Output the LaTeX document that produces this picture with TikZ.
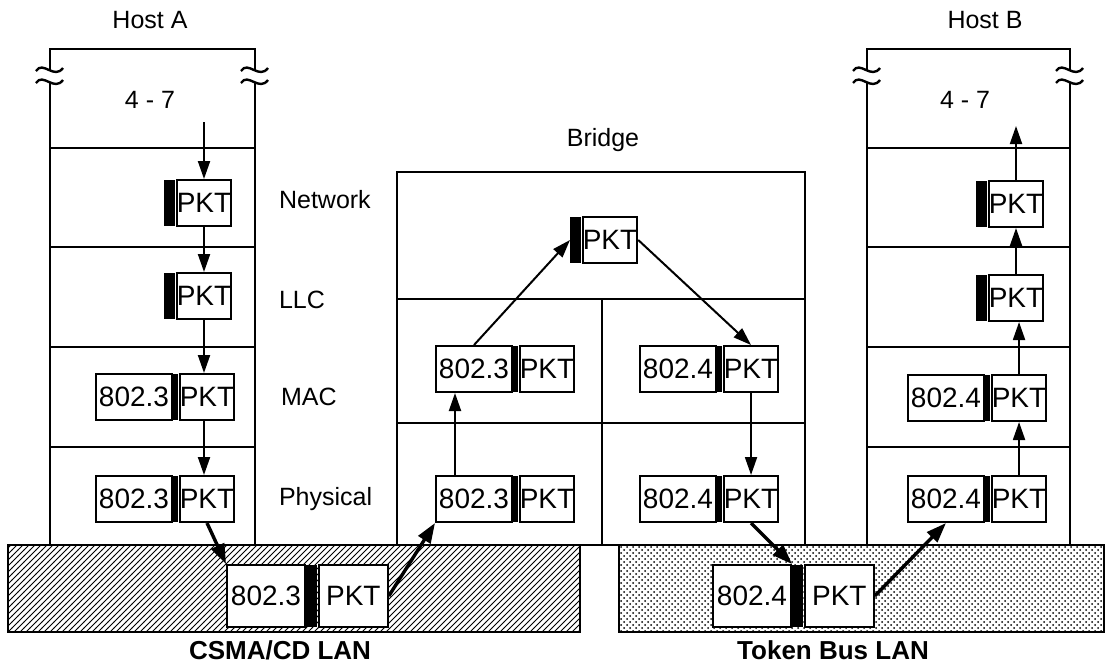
\documentclass[tikz,border=0pt]{standalone}
\usepackage{fontspec}
\setmainfont{Liberation Sans}
\usetikzlibrary{arrows.meta,positioning,patterns}
\newcommand{\boxfont}{\fontsize{14}{16}\selectfont}
\newcommand{\tagfont}{\fontsize{12.5}{15}\selectfont}
\newcommand{\brkmark}[1]{%
  \begin{scope}[shift={(#1)}]
    \fill[white] (-14,-4) .. controls (-7,-15) and (4,5) .. (13,-7) -- (13,5) .. controls (4,17) and (-7,-3) .. (-14,8) -- cycle;
    \draw[line width=1.2pt] (-14,-4) .. controls (-7,-15) and (4,5) .. (13,-7);
    \draw[line width=1.2pt] (-14,8) .. controls (-7,-3) and (4,17) .. (13,5);
  \end{scope}}
\tikzset{
  layerbox/.style={draw,line width=1pt,fill=white,inner sep=0pt,minimum height=23pt,font=\boxfont},
  hdr/.style={layerbox,minimum width=38pt},
  pkt/.style={layerbox,minimum width=27pt},
  gap/.style={fill=black,inner sep=0pt,minimum width=2.5pt,minimum height=23pt},
  tab/.style={gap,minimum width=5.5pt},
  lanhdr/.style={hdr,minimum width=39pt,minimum height=31pt},
  lanpkt/.style={pkt,minimum width=34.5pt,minimum height=31pt},
  langap/.style={gap,minimum width=5.5pt,minimum height=31pt},
  layername/.style={anchor=west,font=\tagfont},
  title/.style={font=\tagfont},
  wall/.style={line width=1pt},
  flow/.style={-{Triangle[length=9pt,width=6pt]},line width=1pt},
  hop/.style={-{Triangle[length=10pt,width=7pt]},line width=1.7pt}
}
\begin{document}
\begin{tikzpicture}[x=0.5pt,y=-0.5pt]
\useasboundingbox (0,0) rectangle (1106,670);
% LANs
\draw[wall,pattern=north east lines] (8,545) rectangle (580,632);
\draw[wall,pattern=crosshatch dots] (619,545) rectangle (1104,632);
% hosts and bridge
\draw[wall] (50,545) -- (50,49) -- (255,49) -- (255,545);
\draw[wall] (867,545) -- (867,49) -- (1070,49) -- (1070,545);
\foreach \y in {148,247,347,447} {
  \draw[wall] (50,\y) -- (255,\y);
  \draw[wall] (867,\y) -- (1070,\y);
}
\draw[wall] (397,172) rectangle (805,545);
\draw[wall] (397,299) -- (805,299);
\draw[wall] (397,423) -- (805,423);
\draw[wall] (602,299) -- (602,545);
\brkmark{50,75}
\brkmark{255,75}
\brkmark{867,75}
\brkmark{1070,75}
\node[title] (hostA) at (150,20) {Host A};
\node[title] (hostB) at (985,20) {Host B};
\node[title] (bridge) at (603,140) {Bridge};
\node[title] (haTop) at (150,100) {4 - 7};
\node[title] (hbTop) at (965,100) {4 - 7};
\node[layername] (lNet) at (272,200) {Network};
\node[layername] (lLlc) at (272,300) {LLC};
\node[layername] (lMac) at (274,397) {MAC};
\node[layername] (lPhy) at (272,499) {Physical};
% Host A stack
\node[pkt] (haNetP) at (204,203) {PKT};
\node[tab,left=0pt of haNetP] (haNetB) {};
\node[pkt] (haLlcP) at (204,296) {PKT};
\node[tab,left=0pt of haLlcP] (haLlcB) {};
\node[hdr] (haMacH) at (134,397) {802.3};
\node[gap,right=0pt of haMacH] (haMacB) {};
\node[pkt,right=0pt of haMacB] (haMacP) {PKT};
\node[hdr] (haPhyH) at (134,499) {802.3};
\node[gap,right=0pt of haPhyH] (haPhyB) {};
\node[pkt,right=0pt of haPhyB] (haPhyP) {PKT};
% bridge
\node[pkt] (brNetP) at (610,240) {PKT};
\node[tab,left=0pt of brNetP] (brNetB) {};
\node[hdr] (brMacLH) at (474,369) {802.3};
\node[gap,right=0pt of brMacLH] (brMacLB) {};
\node[pkt,right=0pt of brMacLB] (brMacLP) {PKT};
\node[hdr] (brMacRH) at (678,369) {802.4};
\node[gap,right=0pt of brMacRH] (brMacRB) {};
\node[pkt,right=0pt of brMacRB] (brMacRP) {PKT};
\node[hdr] (brPhyLH) at (474,499) {802.3};
\node[gap,right=0pt of brPhyLH] (brPhyLB) {};
\node[pkt,right=0pt of brPhyLB] (brPhyLP) {PKT};
\node[hdr] (brPhyRH) at (678,499) {802.4};
\node[gap,right=0pt of brPhyRH] (brPhyRB) {};
\node[pkt,right=0pt of brPhyRB] (brPhyRP) {PKT};
% Host B stack
\node[pkt] (hbNetP) at (1016,204) {PKT};
\node[tab,left=0pt of hbNetP] (hbNetB) {};
\node[pkt] (hbLlcP) at (1016,298) {PKT};
\node[tab,left=0pt of hbLlcP] (hbLlcB) {};
\node[hdr] (hbMacH) at (946,398) {802.4};
\node[gap,right=0pt of hbMacH] (hbMacB) {};
\node[pkt,right=0pt of hbMacB] (hbMacP) {PKT};
\node[hdr] (hbPhyH) at (946,499) {802.4};
\node[gap,right=0pt of hbPhyH] (hbPhyB) {};
\node[pkt,right=0pt of hbPhyB] (hbPhyP) {PKT};
% frames on the LANs
\node[lanhdr] (lanAH) at (266,596) {802.3};
\node[langap,right=0pt of lanAH] (lanAB) {};
\node[lanpkt,right=0pt of lanAB] (lanAP) {PKT};
\node[lanhdr] (lanBH) at (752,596) {802.4};
\node[langap,right=0pt of lanBH] (lanBB) {};
\node[lanpkt,right=0pt of lanBB] (lanBP) {PKT};
\node[title,font=\fontsize{13}{15}\selectfont\bfseries] (csma) at (280,650) {CSMA/CD LAN};
\node[title,font=\fontsize{13}{15}\selectfont\bfseries] (token) at (833,650) {Token Bus LAN};
% flow of the packet
\coordinate (haIn) at (204,122);
\coordinate (hbOut) at (1016,126);
\draw[flow] (haIn) -- (haNetP.north);
\draw[flow] (haNetP.south) -- (haNetP.south |- haLlcP.north);
\draw[flow] (haLlcP.south) -- (haLlcP.south |- haMacP.north);
\draw[flow] (haLlcP.south |- haMacP.south) -- (haLlcP.south |- haPhyP.north);
\draw[hop] (haPhyP.south) -- (lanAH.north west);
\draw[hop] (lanAP.east) -- (brPhyLH.south west);
\draw[flow] ([xshift=-9.5pt]brPhyLH.north) -- ([xshift=-9.5pt]brMacLH.south);
\draw[flow] (brMacLH.north) -- (brNetB.west);
\draw[flow] (brNetP.east) -- (brMacRP.north);
\draw[flow] (brMacRP.south) -- (brMacRP.south |- brPhyRP.north);
\draw[hop] (brPhyRP.south) -- (lanBH.north east);
\draw[hop] (lanBP.east) -- (hbPhyH.south);
\draw[flow] (hbPhyP.north) -- (hbPhyP.north |- hbMacP.south);
\draw[flow] (hbPhyP.north |- hbMacP.north) -- (hbPhyP.north |- hbLlcP.south);
\draw[flow] (hbLlcP.north) -- (hbLlcP.north |- hbNetP.south);
\draw[flow] (hbNetP.north) -- (hbOut);
\end{tikzpicture}
\end{document}
